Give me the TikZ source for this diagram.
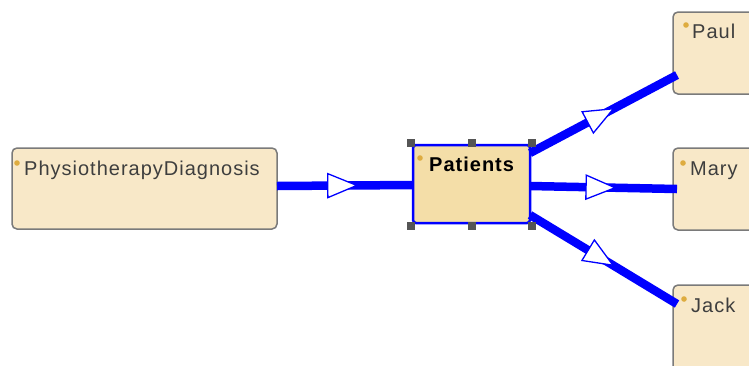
\documentclass[tikz,border=0pt]{standalone}
\usepackage{fontspec}
\setmainfont{Liberation Sans}[LetterSpace=5]
\usetikzlibrary{decorations.markings,calc}
\definecolor{boxfill}{RGB}{248,232,200}
\definecolor{selfill}{RGB}{244,222,168}
\definecolor{boxline}{RGB}{122,122,122}
\definecolor{txt}{RGB}{62,62,62}
\definecolor{dotcol}{RGB}{222,172,64}
\definecolor{handlefill}{RGB}{85,85,85}
\definecolor{flowblue}{RGB}{0,0,255}

\begin{document}
\begin{tikzpicture}[x=1pt,y=-1pt,
  classbox/.style={draw=boxline, line width=1.5pt, fill=boxfill, rounded corners=5pt,
    anchor=north west, inner sep=0pt, outer sep=0pt},
  selbox/.style={classbox, draw=flowblue, line width=2.5pt, fill=selfill, rounded corners=3pt},
  lbl/.style={anchor=base west, inner sep=0pt, text=txt, font=\fontsize{20}{24}\selectfont},
  handle/.style={rectangle, fill=handlefill, minimum size=8pt, inner sep=0pt},
  midtri/.style={postaction={decorate}, decoration={markings,
    mark=at position 0.48 with {\draw[flowblue, line width=1.3pt, fill=white, line join=miter]
      (14.5pt,0pt) -- (-14.5pt,12pt) -- (-14.5pt,-12pt) -- cycle;}}},
  flow/.style={draw=flowblue, line width=8.5pt, midtri}
]
\useasboundingbox (0,0) rectangle (749,365);
\fill[white] (0,0) rectangle (749,365);
\clip (0,0) rectangle (749,365);

% class boxes
\node[classbox, minimum width=265pt, minimum height=81pt] (phys) at (12,148) {};
\node[selbox, minimum width=117pt, minimum height=78pt] (pat) at (413,145) {};
\node[classbox, minimum width=100pt, minimum height=82pt] (paul) at (673,12) {};
\node[classbox, minimum width=100pt, minimum height=82pt] (mary) at (673,148) {};
\node[classbox, minimum width=100pt, minimum height=95pt] (jack) at (673,285) {};

% names and marker dots
\node[lbl] (physlbl) at (24,175) {PhysiotherapyDiagnosis};
\node[lbl, text=black, font=\fontsize{20}{24}\selectfont\bfseries] (patlbl) at (429,171) {Patients};
\node[lbl] (paullbl) at (692,38) {Paul};
\node[lbl] (marylbl) at (690,175) {Mary};
\node[lbl] (jacklbl) at (691,312) {Jack};
\foreach \p in {(17,163),(420,158),(686,25),(683,163),(684,299)}
  \fill[dotcol] \p circle (2.8pt);

% connectors
\draw[flow] ($(phys.east)+(0,-2.5)$) -- ($(pat.west)+(0,1)$);
\draw[flow] ($(pat.north east)+(0,8)$) -- ($(paul.south west)+(4,-19)$);
\draw[flow] ($(pat.east)+(0,2)$) -- ($(mary.west)+(4,0)$);
\draw[flow] ($(pat.south east)+(0,-8)$) -- ($(jack.north west)+(4,19)$);

% selection handles
\node[handle] (h1) at ($(pat.north west)+(-2,-2)$) {};
\node[handle] (h2) at ($(pat.north)+(0,-2)$) {};
\node[handle] (h3) at ($(pat.north east)+(2,-2)$) {};
\node[handle] (h4) at ($(pat.south west)+(-2,3)$) {};
\node[handle] (h5) at ($(pat.south)+(0,3)$) {};
\node[handle] (h6) at ($(pat.south east)+(2,3)$) {};
\end{tikzpicture}
\end{document}
